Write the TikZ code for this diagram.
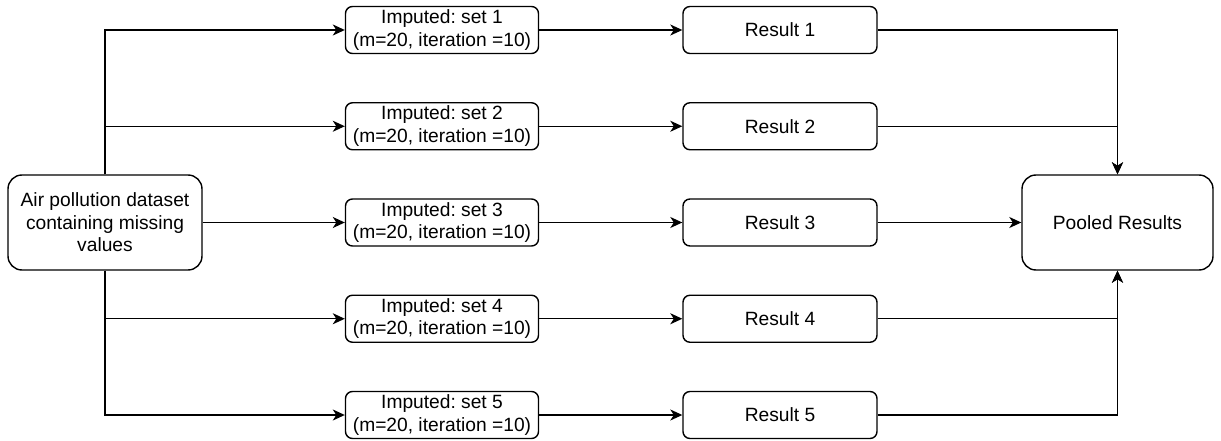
\documentclass[tikz,border=0pt]{standalone}
\usepackage{fontspec}
\setmainfont{Liberation Sans}
\frenchspacing
\usetikzlibrary{arrows.meta}
\begin{document}
\begin{tikzpicture}[x=1pt,y=-1pt,
  every node/.style={font=\fontsize{19.2}{22.5}\selectfont, align=center, inner sep=0pt},
  bigbox/.style={draw, line width=1.4pt, rounded corners=14pt, minimum width=194pt, minimum height=95pt},
  smallbox/.style={draw, line width=1.4pt, rounded corners=7pt, minimum width=193pt, minimum height=47pt},
  link/.style={line width=1.4pt, -{Stealth[length=12pt,width=11pt,inset=3.5pt]}}]
\useasboundingbox (0,0) rectangle (1221,441);

\node[bigbox] (data) at (105,222.5) {Air pollution dataset\\containing missing\\values};
\node[bigbox, minimum width=191pt] (pool) at (1117.5,222.5) {Pooled Results};

\foreach \i in {1,...,5} {
  \pgfmathsetmacro{\yy}{30+96.25*(\i-1)}
  \node[smallbox] (imp\i) at (442,\yy) {Imputed: set \i\\(m=20, iteration =10)};
  \node[smallbox, minimum width=194pt] (res\i) at (780,\yy) {Result \i};
  \draw[link] (imp\i.east) -- (res\i.west);
}

% dataset fans out to the five imputed sets
\draw[link] (data.north) |- (imp1.west);
\draw[link] (data.north) |- (imp2.west);
\draw[link] (data.east) -- (imp3.west);
\draw[link] (data.south) |- (imp4.west);
\draw[link] (data.south) |- (imp5.west);

% results are gathered into the pooled estimate
\draw[link] (res1.east) -| (pool.north);
\draw[link] (res2.east) -| (pool.north);
\draw[link] (res3.east) -- (pool.west);
\draw[link] (res4.east) -| (pool.south);
\draw[link] (res5.east) -| (pool.south);
\end{tikzpicture}
\end{document}
